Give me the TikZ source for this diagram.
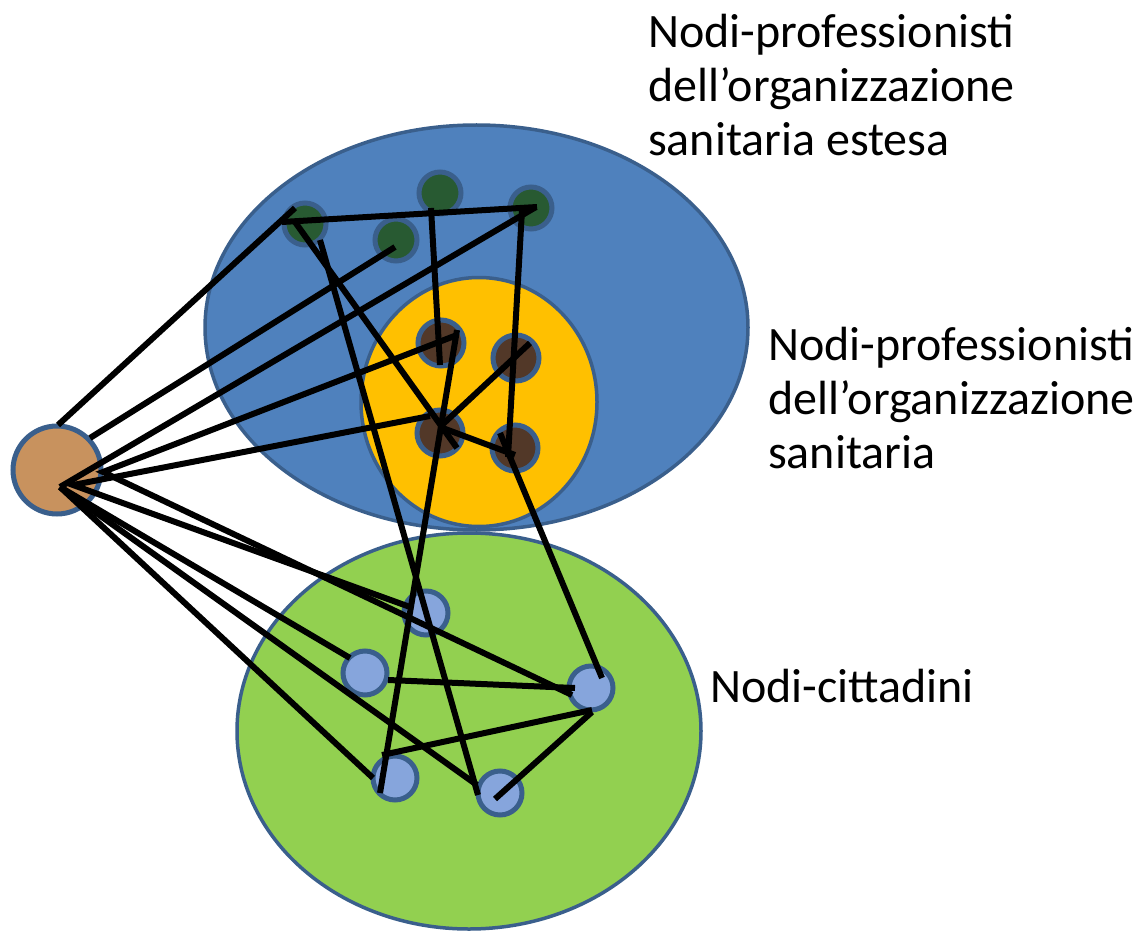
\documentclass[tikz,border=0pt]{standalone}
\usepackage{fontspec}
\setmainfont{Carlito}
\usetikzlibrary{shapes.geometric}
\definecolor{outerblue}{HTML}{4F81BD}
\definecolor{rim}{HTML}{3A5F8C}
\definecolor{gold}{HTML}{FFC000}
\definecolor{leaf}{HTML}{92D050}
\definecolor{forest}{HTML}{285A32}
\definecolor{bark}{HTML}{523828}
\definecolor{sky}{HTML}{86A5DC}
\definecolor{sand}{HTML}{C8925E}
\begin{document}
\begin{tikzpicture}[x=1pt,y=-1pt,
  area/.style={ellipse, draw=rim, line width=3.5pt, inner sep=0},
  dot/.style={circle, draw=rim, line width=5pt, inner sep=0, minimum size=42pt},
  link/.style={line width=6pt, black},
  lab/.style={font=\fontsize{48}{54}\selectfont, align=left, anchor=base west, inner sep=0}]
\useasboundingbox (0,0) rectangle (1138,936);
% regions
\node[area, fill=outerblue, minimum width=543pt, minimum height=405pt] (ext) at (476.5,327.5) {};
\node[area, fill=gold, minimum width=236pt, minimum height=249pt] (org) at (479,402) {};
\node[area, fill=leaf, minimum width=464pt, minimum height=396pt] (cit) at (469,731) {};
% nodes
\node[dot, fill=sand, minimum size=88pt] (hub) at (57,470) {};
\node[dot, fill=forest] (G1) at (305,224) {};
\node[dot, fill=forest] (G2) at (396,240) {};
\node[dot, fill=forest] (G3) at (440,193) {};
\node[dot, fill=forest] (G4) at (531,208) {};
\node[dot, fill=bark, minimum size=46pt] (BA) at (441,343) {};
\node[dot, fill=bark, minimum size=46pt] (BB) at (516,358) {};
\node[dot, fill=bark, minimum size=46pt] (BC) at (440,433) {};
\node[dot, fill=bark, minimum size=46pt] (BD) at (515,448) {};
\node[dot, fill=sky, minimum size=44pt] (N1) at (426,613) {};
\node[dot, fill=sky, minimum size=44pt] (N2) at (365,673) {};
\node[dot, fill=sky, minimum size=44pt] (N3) at (591,688) {};
\node[dot, fill=sky, minimum size=44pt] (N4) at (395,778) {};
\node[dot, fill=sky, minimum size=44pt] (N5) at (500,793) {};
% connectors
\draw[link] ([shift={(1,-45)}]hub.center) -- ([shift={(-10,-16)}]G1.center);
\draw[link] ([shift={(33,-32)}]hub.center) -- ([shift={(-1,7)}]G2.center);
\draw[link] ([shift={(3,17)}]hub.center) -- ([shift={(5,-1)}]G4.center);
\draw[link] ([shift={(16,-8)}]BA.center) -- ([shift={(46,2)}]hub.center) -- ([shift={(-19,7)}]N3.center);
\draw[link] ([shift={(-10,-17)}]BC.center) -- ([shift={(16,15)}]hub.center) -- ([shift={(-16,-6)}]N1.center);
\draw[link] ([shift={(3,17)}]hub.center) -- ([shift={(-15,-15)}]N2.center);
\draw[link] ([shift={(3,17)}]hub.center) -- ([shift={(-23,-8)}]N5.center);
\draw[link] ([shift={(3,17)}]hub.center) -- ([shift={(-22,0)}]N4.center);
\draw[link] ([shift={(-23,-2)}]G1.center) -- ([shift={(6,-1)}]G4.center);
\draw[link] ([shift={(-10,-2)}]G1.center) -- ([shift={(17,15)}]BC.center);
\draw[link] ([shift={(15,16)}]G1.center) -- ([shift={(-22,2)}]N5.center);
\draw[link] ([shift={(-9,15)}]G3.center) -- ([shift={(-1,22)}]BA.center);
\draw[link] ([shift={(-9,2)}]G4.center) -- ([shift={(-7,9)}]BD.center);
\draw[link] ([shift={(14,-15)}]BB.center) -- ([shift={(2,-8)}]BC.center);
\draw[link] ([shift={(0,-6)}]BC.center) -- ([shift={(0,7)}]BD.center);
\draw[link] ([shift={(-15,-15)}]BD.center) -- ([shift={(11,-10)}]N3.center);
\draw[link] ([shift={(16,-13)}]BA.center) -- ([shift={(-15,15)}]N4.center);
\draw[link] ([shift={(23,7)}]N2.center) -- ([shift={(-16,0)}]N3.center);
\draw[link] ([shift={(-13,-23)}]N4.center) -- ([shift={(1,22)}]N3.center);
\draw[link] ([shift={(-5,6)}]N5.center) -- ([shift={(1,24)}]N3.center);
% labels
\node[lab] (t1) at (648,156) {Nodi-professionisti\\dell’organizzazione\\sanitaria estesa};
\node[lab] (t2) at (768,468) {Nodi-professionisti\\dell’organizzazione\\sanitaria};
\node[lab] (t3) at (710,702) {Nodi-cittadini};
\end{tikzpicture}
\end{document}
